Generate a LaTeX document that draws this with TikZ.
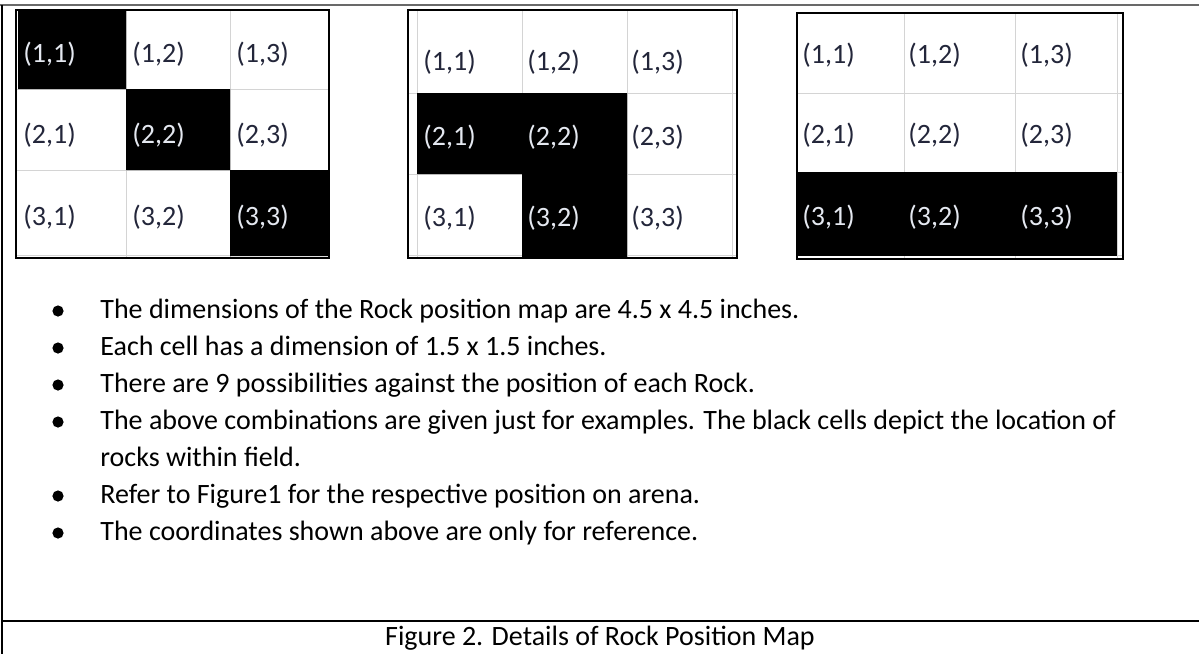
\documentclass[tikz,border=0pt]{standalone}
\usepackage{fontspec}
\setmainfont{Carlito}
\usetikzlibrary{positioning}
\definecolor{cellgray}{RGB}{212,212,212}
\definecolor{celltext}{RGB}{35,38,58}
\definecolor{rocktext}{RGB}{228,232,240}
\definecolor{framegray}{RGB}{105,105,105}

\begin{document}
\begin{tikzpicture}[x=0.5pt,y=-0.5pt,
  rock/.style={fill=black},
  gridline/.style={draw=cellgray, line width=0.5pt},
  mapframe/.style={draw=black, line width=1pt},
  cellnum/.style={anchor=base west, inner sep=0pt, font=\fontsize{14}{17}\selectfont},
  itemtxt/.style={anchor=base west, inner sep=0pt, font=\fontsize{14}{17}\selectfont},
  bulletdot/.style={circle, fill=black, inner sep=0pt, minimum size=5.6pt}]
\useasboundingbox (0,0) rectangle (1199,654);
\draw [framegray, line width=1pt] (0,5) -- (1199,5);
\draw [line width=1.1pt] (2,5) -- (2,654);
\draw [line width=1.3pt] (2,621) -- (1199,621);

\foreach \x in {126,230} \draw [gridline] (\x,11) -- (\x,257);
\foreach \y in {89,170,255} \draw [gridline] (17,\y) -- (328,\y);
\fill [rock] (18,11) rectangle (126,89) (126,89) rectangle (230,170) (230,170) rectangle (328,256);
\draw [mapframe] (16,10) rectangle (329,258);
\foreach \r/\y in {1/62,2/143,3/225}
  \foreach \c/\x in {1/23,2/132,3/236}{
    \pgfmathtruncatemacro\isrock{\r==\c}
    \ifnum\isrock=1 \def\tc{rocktext}\else\def\tc{celltext}\fi
    \node [cellnum, text=\tc] (ma\r\c) at (\x,\y) {(\r,\c)};
  }

\foreach \x in {417,522,627,732} \draw [gridline] (\x,11) -- (\x,257);
\foreach \y in {93,174,255} \draw [gridline] (409,\y) -- (736,\y);
\fill [rock] (417,93) rectangle (627,174) (522,174) rectangle (627,257);
\draw [mapframe] (408,10) rectangle (737,258);
\foreach \r/\y in {1/70,2/145,3/226}
  \foreach \c/\x in {1/423,2/527,3/631}{
    \pgfmathtruncatemacro\isrock{(\r==2)*(\c<3)+(\r==3)*(\c==2)}
    \ifnum\isrock=1 \def\tc{rocktext}\else\def\tc{celltext}\fi
    \node [cellnum, text=\tc] (mb\r\c) at (\x,\y) {(\r,\c)};
  }

\foreach \x in {904,1015,1117} \draw [gridline] (\x,14) -- (\x,258);
\foreach \y in {93,172,255} \draw [gridline] (798,\y) -- (1122,\y);
\fill [rock] (798,172) rectangle (1117,256);
\draw [mapframe] (797,13) rectangle (1123,259);
\foreach \r/\y in {1/63,2/143,3/225}
  \foreach \c/\x in {1/802,2/908,3/1020}{
    \pgfmathtruncatemacro\isrock{\r==3}
    \ifnum\isrock=1 \def\tc{rocktext}\else\def\tc{celltext}\fi
    \node [cellnum, text=\tc] (mc\r\c) at (\x,\y) {(\r,\c)};
  }

\foreach \i/\y in {1/318,2/355,3/392,4/429,6/503,7/540}
  \node [bulletdot] (b\i) at (58,\y-7) {};
\node [itemtxt] (t1) at (100,318) {The dimensions of the Rock position map are 4.5 x 4.5 inches.};
\node [itemtxt] (t2) at (100,355) {Each cell has a dimension of 1.5 x 1.5 inches.};
\node [itemtxt] (t3) at (100,392) {There are 9 possibilities against the position of each Rock.};
\node [itemtxt] (t4) at (100,429) {The above combinations are given just for examples. The black cells depict the location of};
\node [itemtxt] (t5) at (100,466) {rocks within field.};
\node [itemtxt] (t6) at (100,503) {Refer to Figure1 for the respective position on arena.};
\node [itemtxt] (t7) at (100,540) {The coordinates shown above are only for reference.};

\node [itemtxt, anchor=base] (cap) at (600,645) {Figure 2. Details of Rock Position Map};
\end{tikzpicture}
\end{document}
